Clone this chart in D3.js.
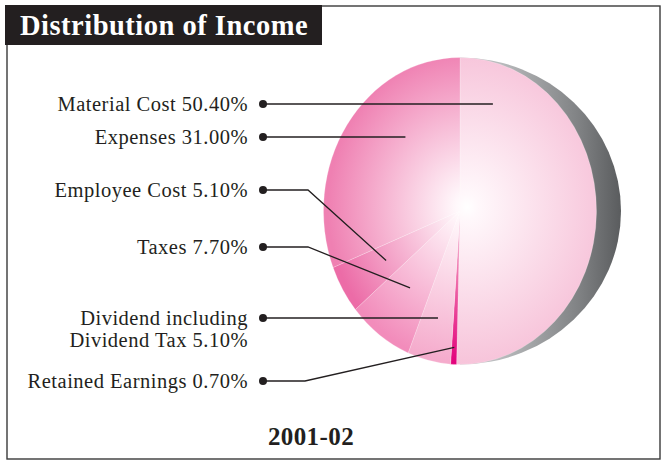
<!DOCTYPE html>
<html>
<head>
<meta charset="utf-8">
<script src="https://cdn.jsdelivr.net/npm/d3@7"></script>
<style>
  html, body { margin: 0; padding: 0; background: #fff; }
  svg { display: block; }
</style>
</head>
<body>
<svg id="chart" width="661" height="465"></svg>
<script>
// ---- data (pie order, clockwise from 12 o'clock) ----
const categories = ["Material Cost", "Retained Earnings", "Dividend including Dividend Tax", "Taxes", "Employee Cost", "Expenses"];
const values = [50.4, 0.7, 5.1, 7.7, 5.1, 31.0];
const labelLines = [
  ["Material Cost 50.40%"],
  ["Retained Earnings 0.70%"],
  ["Dividend including", "Dividend Tax 5.10%"],
  ["Taxes 7.70%"],
  ["Employee Cost 5.10%"],
  ["Expenses 31.00%"]
];
const title = "Distribution of Income";
const yearLabel = "2001-02";

// ---- styling / layout ----
const sliceColors = ["#f7c4da", "#e2007a", "#f5abcc", "#f28cbb", "#ec6ca7", "#ef80b2"];
const W = 661, H = 465;
const cx = 460, cy = 211, ry = 153.5, rx = 136.5;
const edgeRx = 161;
// label layout: dot y, anchor (angle deg clockwise from top, radius fraction), elbow x (null = straight)
const labelDotY = [104, 381, 318, 247, 190, 137];
const anchorAngle = [19, null, null, null, null, 320.6];
const anchorFrac = [0.74, 0.89, 0.71, 0.62, 0.63, 0.63];
const elbowX = [null, 305, null, 308, 308, null];
const dotX = 263, textRight = 248;
const ink = "#231f20";

const svg = d3.select("#chart");
const defs = svg.append("defs");

// frame
svg.append("rect").attr("x", 7).attr("y", 6).attr("width", 653).attr("height", 453)
  .attr("fill", "none").attr("stroke", "#3a3a3a").attr("stroke-width", 1.4);

// title box
svg.append("rect").attr("x", 5).attr("y", 5).attr("width", 317).attr("height", 40).attr("fill", ink);
svg.append("text").attr("x", 20).attr("y", 35)
  .attr("font-family", "Liberation Serif, Times New Roman, serif").attr("font-weight", "bold")
  .attr("font-size", 28.5).attr("letter-spacing", 0.5).attr("fill", "#fff").text(title);

// 3D edge (right half of a wider ellipse)
const edgeGrad = defs.append("linearGradient").attr("id", "edgeGrad")
  .attr("gradientUnits", "userSpaceOnUse").attr("x1", cx + 40).attr("x2", cx + edgeRx).attr("y1", 0).attr("y2", 0);
edgeGrad.append("stop").attr("offset", 0).attr("stop-color", "#b9bbbd");
edgeGrad.append("stop").attr("offset", 0.65).attr("stop-color", "#808284");
edgeGrad.append("stop").attr("offset", 1).attr("stop-color", "#5a5c5e");
svg.append("path")
  .attr("d", `M${cx},${cy - ry} A${edgeRx},${ry} 0 0 1 ${cx},${cy + ry} Z`)
  .attr("fill", "url(#edgeGrad)");

// pie
const pie = d3.pie().sort(null).value(d => d)(values);
const arc = d3.arc().innerRadius(0).outerRadius(ry);
const g = svg.append("g").attr("transform", `translate(${cx},${cy}) scale(${rx / ry},1)`);

sliceColors.forEach((c, i) => {
  const rg = defs.append("radialGradient").attr("id", "sg" + i)
    .attr("gradientUnits", "userSpaceOnUse").attr("cx", 8).attr("cy", -4).attr("r", ry * 1.02)
    .attr("fx", 8).attr("fy", -4);
  rg.append("stop").attr("offset", 0).attr("stop-color", "#ffffff");
  rg.append("stop").attr("offset", 0.08).attr("stop-color", "#fff8fb");
  rg.append("stop").attr("offset", 1).attr("stop-color", c);
});

g.selectAll("path.slice").data(pie).join("path")
  .attr("class", "slice")
  .attr("d", arc)
  .attr("fill", (d, i) => `url(#sg${i})`)
  .attr("stroke", "#ffffff").attr("stroke-opacity", 0.45).attr("stroke-width", 0.5);

// retained earnings sliver: gradient darker at bottom
const rgR = defs.append("linearGradient").attr("id", "retGrad")
  .attr("gradientUnits", "userSpaceOnUse").attr("x1", 0).attr("y1", 0).attr("x2", 0).attr("y2", ry);
rgR.append("stop").attr("offset", 0).attr("stop-color", "#f7c6dc");
rgR.append("stop").attr("offset", 0.45).attr("stop-color", "#ee6aa8");
rgR.append("stop").attr("offset", 1).attr("stop-color", "#e2007a");
g.selectAll("path.slice").filter((d, i) => i === 1).attr("fill", "url(#retGrad)");

// labels + leaders
function anchorPoint(i) {
  const d = pie[i];
  const aDeg = anchorAngle[i] != null ? anchorAngle[i] : (d.startAngle + d.endAngle) / 2 * 180 / Math.PI;
  const a = aDeg * Math.PI / 180;
  const r = ry * anchorFrac[i];
  return [cx + Math.sin(a) * r * (rx / ry), cy - Math.cos(a) * r];
}

const lab = svg.append("g");
categories.forEach((cat, i) => {
  const y = labelDotY[i];
  const [ax, ay] = anchorPoint(i);
  const pts = [[dotX, y]];
  if (elbowX[i] != null) pts.push([elbowX[i], y]);
  pts.push([ax, elbowX[i] != null ? ay : y]);
  lab.append("path").attr("d", d3.line()(pts))
    .attr("fill", "none").attr("stroke", ink).attr("stroke-width", 1.3);
  lab.append("circle").attr("cx", dotX).attr("cy", y).attr("r", 4).attr("fill", ink);
  const t = lab.append("text")
    .attr("text-anchor", "end")
    .attr("font-family", "Liberation Serif, Times New Roman, serif")
    .attr("font-size", 20.5).attr("letter-spacing", 0.5).attr("fill", ink);
  labelLines[i].forEach((ln, k) => {
    t.append("tspan").attr("x", textRight).attr("y", y + 7 + k * 22).text(ln);
  });
});

// year label
svg.append("text").attr("x", 311).attr("y", 445).attr("text-anchor", "middle")
  .attr("font-family", "Liberation Serif, Times New Roman, serif").attr("font-weight", "bold")
  .attr("font-size", 25).attr("letter-spacing", 0.4).attr("fill", ink).text(yearLabel);
</script>
</body>
</html>
